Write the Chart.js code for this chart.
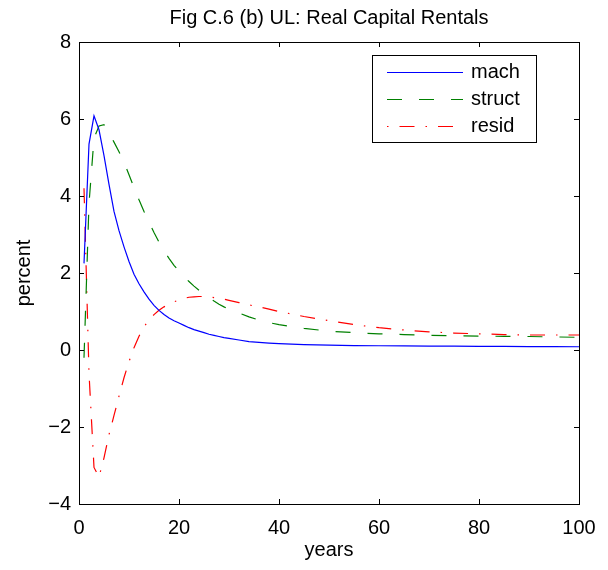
<!DOCTYPE html>
<html>
<head>
<meta charset="utf-8">
<script src="https://cdn.jsdelivr.net/npm/chart.js@4.4.1/dist/chart.umd.min.js"></script>
<style>
    html, body { margin: 0; padding: 0; background: #fff; }
    #wrap { width: 608px; height: 570px; }
</style>
</head>
<body>
<div id="wrap"><canvas id="chart" width="608" height="570"></canvas></div>
<script>
// years after the shock
const years = [1, 2, 3, 4, 5, 6, 7, 8, 9, 10, 11, 12, 13, 14, 15, 16, 17, 18, 19, 20,
    21, 22, 23, 24, 25, 26, 27, 28, 29, 30, 32, 34, 36, 38, 40, 45, 50, 55, 60, 65,
    70, 75, 80, 85, 90, 95, 100];

const mach = [2.25, 5.35, 6.08, 5.72, 5.05, 4.3, 3.6, 3.1, 2.68, 2.3, 1.97, 1.72, 1.51, 1.32, 1.16, 1.03, 0.92, 0.83, 0.76, 0.7,
    0.64, 0.58, 0.53, 0.49, 0.45, 0.41, 0.38, 0.35, 0.32, 0.3, 0.26, 0.22, 0.2, 0.18, 0.165, 0.14, 0.125, 0.115, 0.11, 0.105,
    0.1, 0.1, 0.095, 0.095, 0.09, 0.09, 0.085];

const struct = [-0.2, 3.8, 5.5, 5.82, 5.85, 5.65, 5.4, 5.15, 4.88, 4.55, 4.22, 3.9, 3.6, 3.33, 3.05, 2.8, 2.58, 2.38, 2.2, 2.05,
    1.9, 1.78, 1.66, 1.55, 1.45, 1.36, 1.27, 1.19, 1.12, 1.06, 0.96, 0.86, 0.78, 0.71, 0.66, 0.56, 0.49, 0.45, 0.42, 0.4,
    0.38, 0.37, 0.36, 0.355, 0.35, 0.34, 0.33];

const resid = [4.2, -0.6, -3.05, -3.3, -2.8, -2.2, -1.7, -1.2, -0.72, -0.3, 0.06, 0.36, 0.6, 0.78, 0.92, 1.03, 1.12, 1.19, 1.25, 1.3,
    1.34, 1.37, 1.38, 1.39, 1.39, 1.38, 1.36, 1.34, 1.32, 1.29, 1.23, 1.17, 1.12, 1.06, 1.0, 0.87, 0.76, 0.66, 0.58, 0.52,
    0.47, 0.44, 0.42, 0.4, 0.39, 0.39, 0.39];

const seriesNames = ['mach', 'struct', 'resid'];
const xTicks = [0, 20, 40, 60, 80, 100];
const yTicks = [-4, -2, 0, 2, 4, 6, 8];
const titleText = 'Fig C.6 (b) UL: Real Capital Rentals';

const FONT = '"Liberation Sans", Arial, Helvetica, sans-serif';

function toXY(vals) {
    return years.map((x, i) => ({ x: x, y: vals[i] }));
}

// matlab style box with ticks pointing inward, title over the axes
const boxPlugin = {
    id: 'box',
    afterDraw(chart) {
        const ctx = chart.ctx;
        const a = chart.chartArea;
        const xs = chart.scales.x;
        const ys = chart.scales.y;
        const len = 5;
        ctx.save();
        ctx.strokeStyle = '#000';
        ctx.lineWidth = 1;
        ctx.beginPath();
        xTicks.forEach(v => {
            const px = Math.round(xs.getPixelForValue(v)) + 0.5;
            ctx.moveTo(px, a.bottom); ctx.lineTo(px, a.bottom - len);
            ctx.moveTo(px, a.top); ctx.lineTo(px, a.top + len);
        });
        yTicks.forEach(v => {
            const py = Math.round(ys.getPixelForValue(v)) + 0.5;
            ctx.moveTo(a.left, py); ctx.lineTo(a.left + len, py);
            ctx.moveTo(a.right, py); ctx.lineTo(a.right - len, py);
        });
        ctx.stroke();
        ctx.strokeRect(Math.round(a.left) + 0.5, Math.round(a.top) + 0.5,
            Math.round(a.right - a.left), Math.round(a.bottom - a.top));

        ctx.fillStyle = '#000';
        ctx.font = '20px ' + FONT;
        ctx.textAlign = 'center';
        ctx.textBaseline = 'middle';
        ctx.fillText(titleText, (a.left + a.right) / 2, 18);
        ctx.restore();
    }
};

// legend box in the upper right, like the matlab one
const legendPlugin = {
    id: 'boxLegend',
    afterDraw(chart) {
        const ctx = chart.ctx;
        const bx = 372, by = 55, bw = 164, bh = 87;
        const rows = [72, 99, 126];
        const offsets = [0, 0, 26];
        ctx.save();
        ctx.fillStyle = '#fff';
        ctx.fillRect(bx, by, bw, bh);
        ctx.strokeStyle = '#000';
        ctx.lineWidth = 1;
        ctx.strokeRect(bx + 0.5, by + 0.5, bw, bh);
        chart.data.datasets.forEach((ds, i) => {
            const y = rows[i] + 0.5;
            ctx.strokeStyle = ds.borderColor;
            ctx.lineWidth = ds.borderWidth;
            ctx.setLineDash(ds.borderDash || []);
            ctx.lineDashOffset = offsets[i];
            ctx.beginPath();
            ctx.moveTo(387, y);
            ctx.lineTo(463, y);
            ctx.stroke();
            ctx.setLineDash([]);
            ctx.lineDashOffset = 0;
            ctx.fillStyle = '#000';
            ctx.font = '20px ' + FONT;
            ctx.textBaseline = 'middle';
            ctx.textAlign = 'left';
            ctx.fillText(ds.label, 471, rows[i]);
        });
        ctx.restore();
    }
};

new Chart(document.getElementById('chart'), {
    type: 'line',
    data: {
        datasets: [{
            label: seriesNames[0],
            data: toXY(mach),
            borderColor: '#0000ff',
            borderWidth: 1.2,
        }, {
            label: seriesNames[1],
            data: toXY(struct),
            borderColor: '#008000',
            borderWidth: 1.2,
            borderDash: [15, 17],
        }, {
            label: seriesNames[2],
            data: toXY(resid),
            borderColor: '#ff0000',
            borderWidth: 1.2,
            borderDash: [15, 11, 1.5, 11],
        }]
    },
    options: {
        responsive: false,
        animation: false,
        layout: { padding: { top: 42, right: 29, bottom: 0, left: 0 } },
        elements: {
            point: { radius: 0 },
            line: { tension: 0, fill: false }
        },
        plugins: {
            legend: { display: false },
            tooltip: { enabled: false },
            title: { display: false }
        },
        scales: {
            x: {
                type: 'linear',
                min: 0,
                max: 100,
                afterFit(scale) { scale.height = 66; },
                afterBuildTicks(scale) { scale.ticks = xTicks.map(v => ({ value: v })); },
                grid: { display: false, drawTicks: false },
                border: { display: false },
                ticks: {
                    color: '#000',
                    padding: 12,
                    maxRotation: 0,
                    font: { family: FONT, size: 20 },
                },
                title: {
                    display: true,
                    text: 'years',
                    color: '#000',
                    font: { family: FONT, size: 20 },
                    padding: { top: 0, bottom: 8 }
                }
            },
            y: {
                type: 'linear',
                min: -4,
                max: 8,
                afterFit(scale) { scale.width = 79; },
                afterBuildTicks(scale) { scale.ticks = yTicks.map(v => ({ value: v })); },
                grid: { display: false, drawTicks: false },
                border: { display: false },
                ticks: {
                    color: '#000',
                    padding: 8,
                    font: { family: FONT, size: 20 },
                    callback: v => (v < 0 ? '\u2212' + Math.abs(v) : String(v))
                },
                title: {
                    display: true,
                    text: 'percent',
                    color: '#000',
                    font: { family: FONT, size: 20 },
                    padding: { top: 12, bottom: 0 }
                }
            }
        }
    },
    plugins: [boxPlugin, legendPlugin]
});
</script>
</body>
</html>
